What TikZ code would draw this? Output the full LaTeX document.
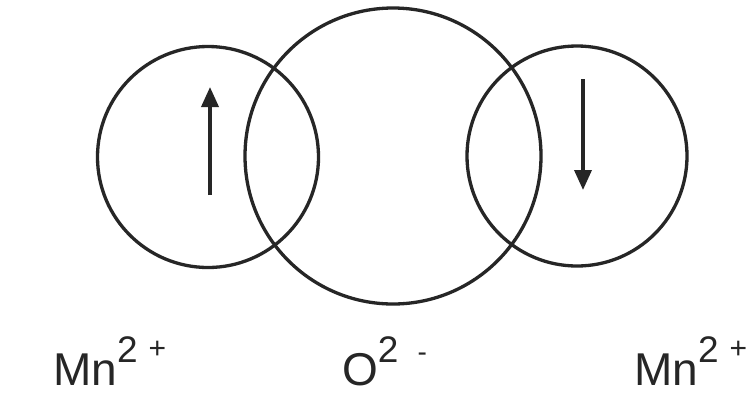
\documentclass[tikz,border=0pt]{standalone}
\usepackage{fontspec}
\setmainfont{Liberation Sans}
\usetikzlibrary{arrows.meta}
\definecolor{ink}{HTML}{262626}
\newcommand{\supnum}[1]{\raisebox{23pt}{\fontsize{37}{37}\selectfont #1}}
\newcommand{\supsign}[3]{\raisebox{#1}{\fontsize{#2}{#2}\selectfont #3}}
\begin{document}
\begin{tikzpicture}[x=1pt,y=-1pt,
  orb/.style={draw=ink,line width=3.3pt,circle,inner sep=0pt,minimum size=#1},
  spin/.style={draw=ink,line width=3.6pt,-{Triangle[length=20pt,width=17pt]}},
  ion/.style={anchor=base west,inner sep=0pt,text=ink,font=\fontsize{46}{50}\selectfont}]
\fill[white] (0,0) rectangle (751,416);
\useasboundingbox (0,0) rectangle (751,416);
\node[orb=221pt] (mnL) at (208,157) {};
\node[orb=296pt] (ox) at (393,156) {};
\node[orb=220pt] (mnR) at (577,156) {};
\coordinate (aLs) at (210,195);
\coordinate (aLe) at (210,87);
\coordinate (aRs) at (583,79);
\coordinate (aRe) at (583,190);
\draw[spin] (aLs) -- (aLe);
\draw[spin] (aRs) -- (aRe);
\node[ion] (labL) at (53,385) {Mn\supnum{2}\hspace{11pt}\supsign{27pt}{30}{+}};
\node[ion] (labO) at (342,385) {O\supnum{2}\hspace{19pt}\supsign{24pt}{28}{-}};
\node[ion] (labR) at (634,385) {Mn\supnum{2}\hspace{11pt}\supsign{27pt}{30}{+}};
\end{tikzpicture}
\end{document}
